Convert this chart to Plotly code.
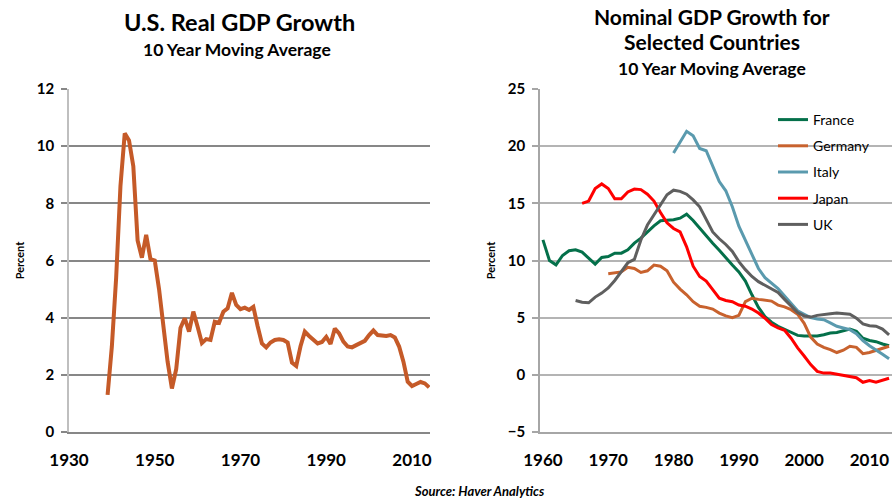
import plotly.graph_objects as go

# ---------------- data ----------------
us_years = list(range(1939, 2015))
us_growth = [1.3, 3.0, 5.4, 8.6, 10.45, 10.2, 9.3, 6.7, 6.1, 6.9, 6.05, 6.0,
             5.0, 3.57, 2.46, 1.52, 2.2, 3.64, 3.98, 3.51, 4.21, 3.68, 3.11, 3.25,
             3.22, 3.86, 3.82, 4.21, 4.33, 4.87, 4.45, 4.3, 4.35, 4.27, 4.38, 3.7,
             3.1, 2.96, 3.13, 3.22, 3.24, 3.22, 3.13, 2.43, 2.31, 3.0, 3.51, 3.36,
             3.24, 3.1, 3.15, 3.33, 3.08, 3.62, 3.45, 3.16, 2.99, 2.96, 3.04, 3.1,
             3.19, 3.39, 3.55, 3.39, 3.36, 3.36, 3.39, 3.31, 2.99, 2.46, 1.76, 1.61,
             1.68, 1.75, 1.7, 1.56]

france_years = list(range(1960, 2014))
france = [11.8, 10.0, 9.62, 10.44, 10.85, 10.94, 10.73, 10.2, 9.68, 10.27,
          10.35, 10.64, 10.64, 10.94, 11.52, 11.96, 12.54, 13.03, 13.47, 13.5,
          13.56, 13.7, 14.05, 13.5, 12.8, 12.2, 11.5, 10.9, 10.2, 9.6,
          9.0, 8.2, 7.0, 5.9, 5.1, 4.6, 4.25, 4.0, 3.7, 3.45,
          3.4, 3.4, 3.4, 3.5, 3.65, 3.7, 3.85, 4.0, 3.8, 3.2,
          3.0, 2.9, 2.7, 2.55]

germany_years = list(range(1970, 2014))
germany = [8.85, 8.95, 9.0, 9.4, 9.3, 8.95, 9.1, 9.6, 9.5, 9.1,
           8.1, 7.5, 7.0, 6.4, 6.0, 5.9, 5.75, 5.4, 5.15, 5.0,
           5.2, 6.4, 6.7, 6.6, 6.55, 6.45, 6.1, 5.95, 5.7, 5.3,
           4.5, 3.3, 2.7, 2.4, 2.2, 1.95, 2.15, 2.5, 2.4, 1.85,
           1.95, 2.15, 2.3, 2.5]

italy_years = list(range(1980, 2014))
italy = [19.4, 20.4, 21.3, 20.9, 19.8, 19.6, 18.2, 16.9, 16.1, 14.7,
         13.0, 11.8, 10.5, 9.3, 8.5, 8.0, 7.55, 6.9, 6.2, 5.6,
         5.3, 5.0, 4.88, 4.82, 4.55, 4.25, 4.1, 3.95, 3.6, 3.0,
         2.55, 2.2, 1.8, 1.4]

japan_years = list(range(1966, 2014))
japan = [15.0, 15.2, 16.3, 16.7, 16.3, 15.4, 15.4, 16.0, 16.25, 16.2,
         15.8, 15.2, 14.2, 13.3, 12.8, 12.5, 11.2, 9.5, 8.6, 8.2,
         7.45, 6.7, 6.5, 6.4, 6.1, 6.0, 5.75, 5.4, 4.95, 4.4,
         4.1, 3.9, 3.2, 2.35, 1.65, 0.9, 0.3, 0.15, 0.15, 0.05,
         -0.1, -0.2, -0.25, -0.65, -0.5, -0.65, -0.45, -0.3]

uk_years = list(range(1965, 2014))
uk = [6.5, 6.35, 6.3, 6.8, 7.15, 7.6, 8.25, 9.0, 9.8, 10.1,
      11.8, 13.1, 14.0, 14.8, 15.75, 16.15, 16.05, 15.8, 15.3, 14.7,
      13.6, 12.5, 11.9, 11.4, 10.8, 9.9, 9.2, 8.6, 8.15, 7.85,
      7.5, 7.2, 6.6, 6.0, 5.45, 5.15, 5.05, 5.2, 5.3, 5.35,
      5.4, 5.35, 5.3, 4.95, 4.45, 4.3, 4.25, 4.0, 3.5]

left_xticks = [1930, 1950, 1970, 1990, 2010]
right_xticks = [1960, 1970, 1980, 1990, 2000, 2010]

# ---------------- figure ----------------
FONT = "Lato"
W, H = 892, 500

def px_x(p):
    return p / W

def px_y(p):
    return 1 - p / H

fig = go.Figure()

fig.add_trace(go.Scatter(x=us_years, y=us_growth, mode="lines",
                         line=dict(color="#C55A28", width=4),
                         showlegend=False, xaxis="x", yaxis="y"))

series = [
    ("France", france_years, france, "#04704A"),
    ("Germany", germany_years, germany, "#C8622E"),
    ("Italy", italy_years, italy, "#5A9AAE"),
    ("Japan", japan_years, japan, "#FF0000"),
    ("UK", uk_years, uk, "#5F5F5F"),
]
for name, xs, ys, col in series:
    fig.add_trace(go.Scatter(x=xs, y=ys, mode="lines", name=name,
                             legendgroup=name,
                             line=dict(color=col, width=3),
                             xaxis="x2", yaxis="y2"))

tickfont_y = dict(family=FONT, size=15, color="black", weight="bold")
tickfont_x = dict(family=FONT, size=17, color="black", weight="bold")

ydom = [px_y(432), px_y(89)]

fig.update_layout(
    width=W, height=H,
    margin=dict(l=0, r=0, t=0, b=0, autoexpand=False),
    paper_bgcolor="white", plot_bgcolor="white",
    font=dict(family=FONT, color="black"),
    xaxis=dict(domain=[px_x(69), px_x(430)], range=[1930, 2014.2],
               tickvals=left_xticks, tickfont=tickfont_x, automargin=False,
               showgrid=False, zeroline=False, showline=True,
               linecolor="#878787", linewidth=1.5, ticks="",
               ticklabelstandoff=12, anchor="y"),
    yaxis=dict(domain=ydom, range=[0, 12], dtick=2, tickfont=tickfont_y,
               automargin=False,
               showgrid=True, gridcolor="#878787", gridwidth=1.5,
               zeroline=False, showline=True, linecolor="#BFBFBF", linewidth=1.5,
               ticks="outside", ticklen=6, tickcolor="#878787", tickwidth=1.5,
               ticklabelstandoff=4,
               title=dict(text="Percent", font=dict(family=FONT, size=11, weight="bold"),
                          standoff=10),
               anchor="x"),
    xaxis2=dict(domain=[px_x(540), 1.0], range=[1959.55, 2013.45],
                tickvals=right_xticks, tickfont=tickfont_x, automargin=False,
                showgrid=False, zeroline=False, showline=True,
                linecolor="#A6A6A6", linewidth=1.5, ticks="",
                ticklabelstandoff=12, anchor="y2"),
    yaxis2=dict(domain=ydom, range=[-5, 25], dtick=5, tickfont=tickfont_y,
                automargin=False,
                showgrid=True, gridcolor="#B4B4B4", gridwidth=1.5,
                zeroline=False, showline=True, linecolor="#A6A6A6", linewidth=1.5,
                ticks="outside", ticklen=6, tickcolor="#A6A6A6", tickwidth=1.5,
                ticklabelstandoff=4,
                title=dict(text="Percent", font=dict(family=FONT, size=11, weight="bold"),
                           standoff=10),
                anchor="x2"),
    legend=dict(x=px_x(773), y=px_y(104), xanchor="left", yanchor="top",
                bgcolor="rgba(0,0,0,0)", font=dict(family=FONT, size=14, color="black"),
                tracegroupgap=5, itemwidth=30),
)

annots = [
    dict(text="U.S. Real GDP Growth", x=px_x(239), y=px_y(22), size=23.5),
    dict(text="10 Year Moving Average", x=px_x(237), y=px_y(50), size=17.5),
    dict(text="Nominal GDP Growth for", x=px_x(712), y=px_y(16), size=21),
    dict(text="Selected Countries", x=px_x(712), y=px_y(42), size=21),
    dict(text="10 Year Moving Average", x=px_x(712), y=px_y(68), size=17.5),
]
for a in annots:
    fig.add_annotation(text=a["text"], x=a["x"], y=a["y"], xref="paper", yref="paper",
                       xanchor="center", yanchor="middle", showarrow=False,
                       font=dict(family=FONT, size=a["size"], color="black", weight="bold"))

fig.add_annotation(text="<i>Source: Haver Analytics</i>", x=px_x(479), y=px_y(491),
                   xref="paper", yref="paper", xanchor="center", yanchor="middle",
                   showarrow=False,
                   font=dict(family=FONT, size=13, color="black", weight="bold"))

fig.write_html("out.html", config={"displayModeBar": False},
               post_script="document.body.style.margin='0px';document.body.style.padding='0px';")
